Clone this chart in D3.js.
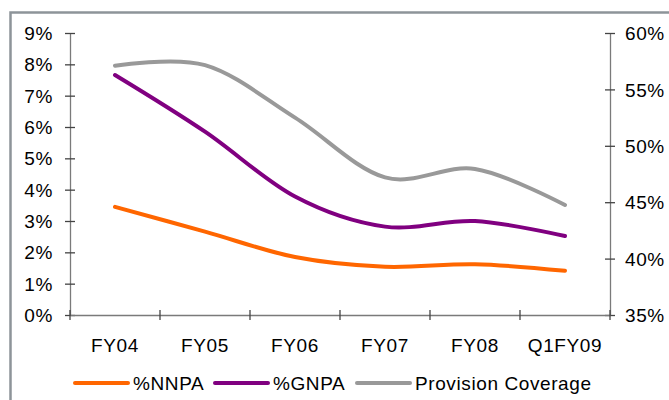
<!DOCTYPE html>
<html>
<head>
<meta charset="utf-8">
<script src="https://cdn.jsdelivr.net/npm/d3@7"></script>
<style>
  html, body { margin: 0; padding: 0; background: #fff; }
  svg { display: block; }
  text { font-family: "Liberation Sans", Arial, sans-serif; fill: #000; }
</style>
</head>
<body>
<svg id="chart" width="669" height="400"></svg>
<script>
// Asset quality trend: NPA ratios (left axis) and provision coverage (right axis)
const categories = ["FY04", "FY05", "FY06", "FY07", "FY08", "Q1FY09"];
const nnpa = [3.45, 2.66, 1.85, 1.54, 1.62, 1.41];        // % of net advances
const gnpa = [7.66, 5.85, 3.78, 2.82, 3.00, 2.52];        // % of gross advances
const provisionCoverage = [57.1, 57.15, 52.5, 47.2, 47.95, 44.75]; // %
const leftTicks = [0, 1, 2, 3, 4, 5, 6, 7, 8, 9];
const rightTicks = [35, 40, 45, 50, 55, 60];

const svg = d3.select("#chart");
const W = 669, H = 400;
const plot = { left: 70, right: 610, top: 33, bottom: 315 };

// outer frame
svg.append("rect")
  .attr("x", 10.5).attr("y", 12.5)
  .attr("width", W + 20).attr("height", H + 20)
  .attr("fill", "#fff")
  .attr("stroke", "#8d9499").attr("stroke-width", 2.5);

const x = d3.scaleBand().domain(categories).range([plot.left, plot.right]);
const yL = d3.scaleLinear().domain([0, 9]).range([plot.bottom, plot.top]);
const yR = d3.scaleLinear().domain([35, 60]).range([plot.bottom, plot.top]);

const fontSize = 19;
const spacing = 0.6;

// left axis
const gL = svg.append("g").attr("transform", `translate(${plot.left},0)`)
  .call(d3.axisLeft(yL).tickValues(leftTicks).tickFormat(d => d + "%").tickSizeInner(5).tickSizeOuter(0));
// right axis
const gR = svg.append("g").attr("transform", `translate(${plot.right},0)`)
  .call(d3.axisRight(yR).tickValues(rightTicks).tickFormat(d => d + "%").tickSizeInner(5).tickSizeOuter(0));
// bottom axis
const gB = svg.append("g").attr("transform", `translate(0,${plot.bottom})`)
  .call(d3.axisBottom(x).tickSizeInner(0).tickSizeOuter(0));

[gL, gR, gB].forEach(g => {
  g.select(".domain").attr("stroke", "#7a7a7a").attr("stroke-width", 1.3);
  g.selectAll(".tick line").attr("stroke", "#444").attr("stroke-width", 1.3);
  g.selectAll("text")
    .attr("font-size", fontSize)
    .attr("font-family", "Liberation Sans, Arial, sans-serif")
    .attr("letter-spacing", spacing)
    .attr("fill", "#000");
});

// ticks crossing the value axes
gL.selectAll(".tick line").attr("x1", 5).attr("x2", -5);
gL.selectAll(".tick text").attr("x", -17).attr("dy", "0.35em");
gR.selectAll(".tick line").attr("x1", -5).attr("x2", 5);
gR.selectAll(".tick text").attr("x", 15).attr("dy", "0.35em");

// category boundary ticks on the x axis
const bounds = categories.map(c => x(c)).concat([plot.right]);
gB.selectAll(".bound").data(bounds).enter().append("line")
  .attr("class", "bound")
  .attr("x1", d => d).attr("x2", d => d)
  .attr("y1", -5).attr("y2", 5)
  .attr("stroke", "#444").attr("stroke-width", 1.3);
gB.selectAll(".tick text").attr("y", 24).attr("dy", "0.71em");

// series lines
const cx = c => x(c) + x.bandwidth() / 2;
const curve = d3.curveCatmullRom.alpha(0);
const lineL = d3.line().x((d, i) => cx(categories[i])).y(d => yL(d)).curve(curve);
const lineR = d3.line().x((d, i) => cx(categories[i])).y(d => yR(d)).curve(curve);

const series = [
  { name: "%NNPA", values: nnpa, line: lineL, color: "#ff6600" },
  { name: "%GNPA", values: gnpa, line: lineL, color: "#800080" },
  { name: "Provision Coverage", values: provisionCoverage, line: lineR, color: "#999999" }
];

svg.selectAll(".series").data(series).enter().append("path")
  .attr("class", "series")
  .attr("d", s => s.line(s.values))
  .attr("fill", "none")
  .attr("stroke", s => s.color)
  .attr("stroke-width", 4)
  .attr("stroke-linejoin", "round")
  .attr("stroke-linecap", "round");

// legend
const legendX = [75, 215, 357];
const legendY = 383;
const lg = svg.selectAll(".legend").data(series).enter().append("g")
  .attr("class", "legend")
  .attr("transform", (d, i) => `translate(${legendX[i]},${legendY})`);
lg.append("line")
  .attr("x1", 0).attr("x2", 53).attr("y1", 0).attr("y2", 0)
  .attr("stroke", d => d.color).attr("stroke-width", 4).attr("stroke-linecap", "round");
lg.append("text")
  .attr("x", 58).attr("y", 0).attr("dy", "0.35em")
  .attr("font-size", fontSize)
  .attr("letter-spacing", spacing)
  .text(d => d.name);
</script>
</body>
</html>
